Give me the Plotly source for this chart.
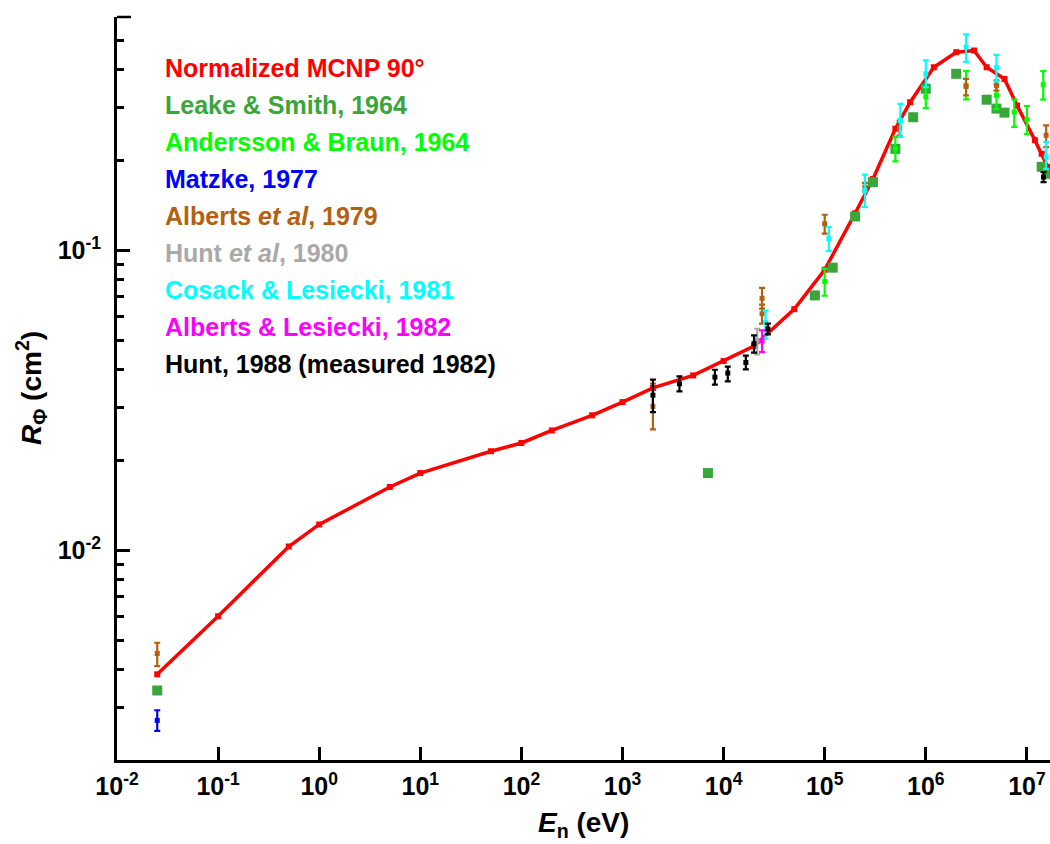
import plotly.graph_objects as go

# ---- Normalized MCNP 90 degree response (red curve) ----
mcnp_E = [0.025, 0.1, 0.5, 1, 5, 10, 50, 100, 200, 500, 1e3, 2e3, 5e3, 1e4, 2e4,
          5e4, 1e5, 2e5, 3e5, 5e5, 7e5, 1.2e6, 2e6, 3e6, 4e6, 6e6, 8e6, 1.2e7, 1.4e7, 1.6e7]
mcnp_R = [0.00386, 0.00603, 0.0103, 0.0122, 0.01626, 0.0181, 0.0214, 0.0228, 0.0251,
          0.0282, 0.0312, 0.0348, 0.0383, 0.0428, 0.048, 0.0637, 0.0862, 0.133, 0.173,
          0.2545, 0.312, 0.408, 0.458, 0.464, 0.408, 0.373, 0.304, 0.233, 0.21, 0.19]

# ---- Leake & Smith, 1964 (no error bars) ----
leake_E = [0.025, 7e3, 8e4, 1.2e5, 2e5, 3e5, 5e5, 7.5e5, 1e6, 2e6, 4e6, 5e6, 6e6, 1.4e7, 1.6e7]
leake_R = [0.00341, 0.0181, 0.0708, 0.0876, 0.1298, 0.169, 0.218, 0.278, 0.346, 0.388,
           0.318, 0.297, 0.288, 0.19, 0.18]

# ---- Andersson & Braun, 1964 ----
ab_E = [1e5, 5e5, 1e6, 2.5e6, 5e6, 7.5e6, 1e7, 1.45e7]
ab_R = [0.0788, 0.218, 0.325, 0.355, 0.329, 0.289, 0.273, 0.357]
ab_hi = [0.0869, 0.239, 0.35, 0.396, 0.357, 0.318, 0.303, 0.396]
ab_lo = [0.0706, 0.198, 0.298, 0.319, 0.296, 0.258, 0.244, 0.318]

# ---- Matzke, 1977 ----
matzke_E = [0.025]
matzke_R = [0.00271]
matzke_hi = [0.00293]
matzke_lo = [0.0025]

# ---- Alberts et al, 1979 ----
alb79_E = [0.025, 2e3, 2.4e4, 2.4e4, 1e5, 2.5e5, 5.5e5, 2.5e6, 5e6, 1.55e7]
alb79_R = [0.00453, 0.0302, 0.0692, 0.0615, 0.1227, 0.1626, 0.2565, 0.352, 0.355, 0.242]
alb79_hi = [0.00492, 0.036, 0.075, 0.066, 0.1315, 0.168, 0.271, 0.373, 0.369, 0.261]
alb79_lo = [0.00411, 0.0253, 0.064, 0.057, 0.1137, 0.157, 0.2415, 0.329, 0.341, 0.221]

# ---- Hunt et al, 1980 ----
hunt80_E = [2.15e4]
hunt80_R = [0.0501]
hunt80_hi = [0.0548]
hunt80_lo = [0.045]

# ---- Cosack & Lesiecki, 1981 ----
cos_E = [2.6e4, 1.1e5, 2.5e5, 5.6e5, 1e6, 2.5e6, 5e6, 1.55e7]
cos_R = [0.0575, 0.1094, 0.1585, 0.271, 0.388, 0.476, 0.407, 0.205]
cos_hi = [0.063, 0.1197, 0.179, 0.308, 0.43, 0.525, 0.449, 0.23]
cos_lo = [0.0508, 0.0995, 0.1394, 0.239, 0.35, 0.425, 0.366, 0.187]

# ---- Alberts & Lesiecki, 1982 ----
al82_E = [2.4e4]
al82_R = [0.0499]
al82_hi = [0.0541]
al82_lo = [0.0458]

# ---- Hunt, 1988 (measured 1982) ----
hunt88_E = [2e3, 3.66e3, 8.2e3, 1.1e4, 1.66e4, 2e4, 2.74e4, 1.46e7]
hunt88_R = [0.0329, 0.0359, 0.0378, 0.039, 0.0423, 0.0489, 0.0547, 0.1755]
hunt88_hi = [0.0371, 0.038, 0.04, 0.041, 0.0446, 0.0521, 0.057, 0.1824]
hunt88_lo = [0.0289, 0.0339, 0.0357, 0.0366, 0.0401, 0.0456, 0.0525, 0.169]

# ---- axis ticks ----
x_tickvals = [1e-2, 1e-1, 1, 10, 1e2, 1e3, 1e4, 1e5, 1e6, 1e7]
x_ticktext = ["<b>10<sup>-2</sup></b>", "<b>10<sup>-1</sup></b>", "<b>10<sup>0</sup></b>",
              "<b>10<sup>1</sup></b>", "<b>10<sup>2</sup></b>", "<b>10<sup>3</sup></b>",
              "<b>10<sup>4</sup></b>", "<b>10<sup>5</sup></b>", "<b>10<sup>6</sup></b>",
              "<b>10<sup>7</sup></b>"]
y_tickvals = [1e-2, 1e-1]
y_ticktext = ["<b>10<sup>-2</sup></b>", "<b>10<sup>-1</sup></b>"]

legend_labels = ["Normalized MCNP 90°", "Leake & Smith, 1964", "Andersson & Braun, 1964",
                 "Matzke, 1977", "Alberts <i>et al</i>, 1979", "Hunt <i>et al</i>, 1980",
                 "Cosack & Lesiecki, 1981", "Alberts & Lesiecki, 1982",
                 "Hunt, 1988 (measured 1982)"]

RED = "#ff0000"
LEAKE = "#3aa53a"
AB = "#00ff00"
MATZKE = "#0000ff"
ALB79 = "#b5600f"
HUNT80 = "#a9a9a9"
COSACK = "#00ffff"
AL82 = "#ff00ff"
HUNT88 = "#000000"
legend_colors = [RED, LEAKE, AB, MATZKE, ALB79, HUNT80, COSACK, AL82, HUNT88]

FONT = "Liberation Sans, Arial, sans-serif"
W, H = 1050, 844
ML, MR, MT, MB = 117, 0, 17, 84
PW, PH = W - ML - MR, H - MT - MB


def px_to_paper(px, py):
    return (px - ML) / PW, (H - MB - py) / PH


fig = go.Figure()

fig.add_trace(go.Scatter(
    x=mcnp_E, y=mcnp_R, mode="lines+markers", name=legend_labels[0],
    line=dict(color=RED, width=3.5),
    marker=dict(symbol="square", size=6, color=RED),
    showlegend=False))

fig.add_trace(go.Scatter(
    x=leake_E, y=leake_R, mode="markers", name=legend_labels[1],
    marker=dict(symbol="square", size=10, color=LEAKE),
    showlegend=False))


def err_trace(E, R, hi, lo, color, name):
    return go.Scatter(
        x=E, y=R, mode="markers", name=name,
        marker=dict(symbol="square", size=5, color=color),
        error_y=dict(type="data", symmetric=False,
                     array=[h - r for h, r in zip(hi, R)],
                     arrayminus=[r - l for r, l in zip(R, lo)],
                     color=color, thickness=2.2, width=3),
        showlegend=False)


fig.add_trace(err_trace(ab_E, ab_R, ab_hi, ab_lo, AB, legend_labels[2]))
fig.add_trace(err_trace(matzke_E, matzke_R, matzke_hi, matzke_lo, MATZKE, legend_labels[3]))
fig.add_trace(err_trace(alb79_E, alb79_R, alb79_hi, alb79_lo, ALB79, legend_labels[4]))
fig.add_trace(err_trace(hunt80_E, hunt80_R, hunt80_hi, hunt80_lo, HUNT80, legend_labels[5]))
fig.add_trace(err_trace(cos_E, cos_R, cos_hi, cos_lo, COSACK, legend_labels[6]))
fig.add_trace(err_trace(al82_E, al82_R, al82_hi, al82_lo, AL82, legend_labels[7]))
fig.add_trace(err_trace(hunt88_E, hunt88_R, hunt88_hi, hunt88_lo, HUNT88, legend_labels[8]))

# colored text-only legend
annotations = []
for i, (lab, col) in enumerate(zip(legend_labels, legend_colors)):
    ax_, ay_ = px_to_paper(163, 68.3 + i * 36.9)
    annotations.append(dict(
        x=ax_, y=ay_, xref="paper", yref="paper", xanchor="left", yanchor="middle",
        text="<b>" + lab + "</b>", showarrow=False,
        font=dict(family=FONT, size=25, color=col)))

# axis titles
tx, ty = px_to_paper(583, 824)
annotations.append(dict(
    x=tx, y=ty, xref="paper", yref="paper", xanchor="center", yanchor="middle",
    text="<b><i>E</i><sub>n</sub> (eV)</b>", showarrow=False,
    font=dict(family=FONT, size=28, color="black")))
tx, ty = px_to_paper(31, 388)
annotations.append(dict(
    x=tx, y=ty, xref="paper", yref="paper", xanchor="center", yanchor="middle",
    text="<b><i>R</i><sub>Φ</sub> (cm<sup>2</sup>)</b>", showarrow=False, textangle=-90,
    font=dict(family=FONT, size=28, color="black")))

# short cap at the top end of the y axis
cx0, cy0 = px_to_paper(117, 17)
cx1, _ = px_to_paper(131, 17)
shapes = [dict(type="line", xref="paper", yref="paper", x0=cx0, x1=cx1, y0=cy0, y1=cy0,
               line=dict(color="black", width=2.5))]

fig.update_layout(
    width=W, height=H,
    margin=dict(l=ML, r=MR, t=MT, b=MB, pad=0),
    paper_bgcolor="white", plot_bgcolor="white",
    font=dict(family=FONT, size=24, color="black"),
    annotations=annotations, shapes=shapes,
    xaxis=dict(
        type="log", range=[-2, -2 + PW / 101.1],
        tickvals=x_tickvals, ticktext=x_ticktext,
        ticks="inside", ticklen=13, tickwidth=2.5, tickcolor="black",
        showline=True, linewidth=3, linecolor="black",
        showgrid=False, zeroline=False,
        tickfont=dict(family=FONT, size=25, color="black"),
        ticklabelstandoff=2,
    ),
    yaxis=dict(
        type="log", range=[-2.699, -0.2218],
        tickvals=y_tickvals, ticktext=y_ticktext,
        ticks="inside", ticklen=13, tickwidth=2.5, tickcolor="black",
        showline=True, linewidth=3, linecolor="black",
        showgrid=False, zeroline=False,
        tickfont=dict(family=FONT, size=25, color="black"),
        ticklabelstandoff=8,
        minor=dict(ticks="inside", ticklen=7, tickwidth=2.5, tickcolor="black",
                   dtick="D1", showgrid=False),
    ),
)

fig.write_html("out.html")
